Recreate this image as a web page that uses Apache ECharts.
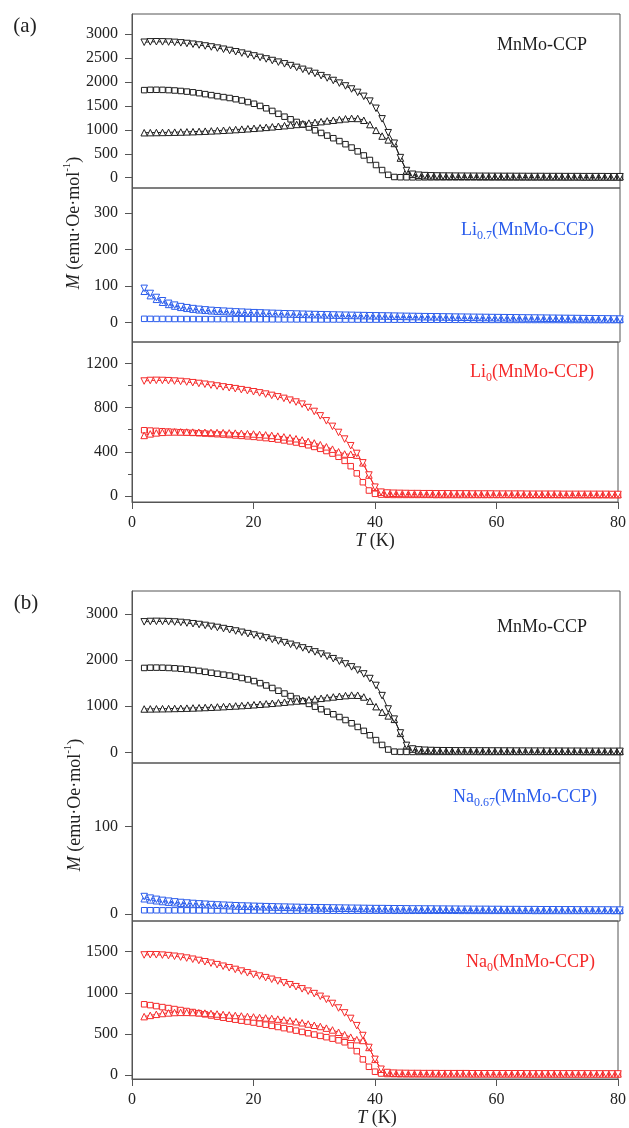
<!DOCTYPE html>
<html>
<head>
<meta charset="utf-8">
<script src="https://cdn.jsdelivr.net/npm/echarts@6/dist/echarts.min.js"></script>
<style>
html, body { margin: 0; padding: 0; background: #fff; }
#main { width: 629px; height: 1128px; }
</style>
</head>
<body>
<div id="main"></div>
<script>
// temperature grid (K)
var T = [2,3,4,5,6,7,8,9,10,11,12,13,14,15,16,17,18,19,20,21,22,23,24,25,26,27,28,29,30,31,
  32,33,34,35,36,37,38,39,40,41,42,43,44,45,46,47,48,49,50,51,52,53,54,55,56,57,58,59,60,61,
  62,63,64,65,66,67,68,69,70,71,72,73,74,75,76,77,78,79,80]

// MnMo-CCP (same sample in both panels)
var mnDown = [2830,2838,2840,2838,2834,2827,2817,2804,2789,2772,
  2752,2731,2708,2684,2658,2631,2603,2574,2544,2513,
  2481,2448,2414,2379,2342,2304,2264,2222,2178,2132,
  2083,2031,1976,1917,1853,1782,1700,1600,1450,1230,
  940,720,420,150,72,52,44,39,36,34,
  33,32,31,30,30,29,29,28,28,27,
  27,26,26,25,25,25,24,24,24,23,
  23,23,22,22,22,22,21,21,21]
var mnSquare = [1830,1836,1837,1835,1830,1822,1812,1799,1784,1766,
  1746,1725,1704,1684,1665,1640,1612,1580,1545,1500,
  1450,1395,1335,1275,1220,1165,1110,1050,990,935,
  880,825,765,700,630,550,465,370,265,160,
  60,15,10,9,8,8,8,8,8,8,
  8,8,8,8,8,7,7,7,7,7,
  7,7,7,7,7,7,7,7,7,7,
  7,7,6,6,6,6,6,6,6]
var mnUp = [940,942,944,946,948,951,954,958,962,967,
  972,978,984,991,998,1006,1014,1023,1032,1042,
  1052,1063,1075,1087,1100,1113,1127,1141,1156,1171,
  1186,1201,1216,1230,1240,1238,1200,1110,990,870,
  790,715,410,145,70,50,43,38,35,33,
  32,31,30,29,29,28,28,27,27,26,
  26,25,25,24,24,24,23,23,23,22,
  22,22,21,21,21,21,20,20,20]

// Li0.7(MnMo-CCP)
var li7Down = [94,80,69,60,53,48,44,41,38.5,36.5,
  35,33.5,32.5,31.5,30.5,29.5,28.8,28,27.3,26.7,
  26,25.5,25,24.4,24,23.5,23,22.6,22.2,21.8,
  21.4,21,20.6,20.3,20,19.6,19.3,19,18.7,18.4,
  18.1,17.8,17.5,17.2,17,16.7,16.4,16.2,16,15.7,
  15.5,15.2,15,14.8,14.6,14.4,14.2,14,13.8,13.6,
  13.4,13.2,13,12.8,12.6,12.4,12.2,12,11.8,11.6,
  11.4,11.2,11,10.8,10.6,10.4,10.2,10,9.8]
var li7Up = [86,74,64,56,50,45.5,42,39.3,37,35.2,
  33.8,32.5,31.5,30.6,29.7,28.9,28.2,27.5,26.8,26.2,
  25.6,25.1,24.6,24.1,23.6,23.2,22.8,22.4,22,21.6,
  21.2,20.8,20.5,20.1,19.8,19.5,19.2,18.9,18.6,18.3,
  18,17.7,17.4,17.1,16.9,16.6,16.3,16.1,15.9,15.6,
  15.4,15.1,14.9,14.7,14.5,14.3,14.1,13.9,13.7,13.5,
  13.3,13.1,12.9,12.7,12.5,12.3,12.1,11.9,11.7,11.5,
  11.3,11.1,10.9,10.7,10.5,10.3,10.1,9.9,9.7]
var li7Square = [10.5,10.4,10.3,10.2,10.1,10,10,9.9,9.9,9.8,
  9.8,9.7,9.7,9.6,9.6,9.5,9.5,9.4,9.4,9.3,
  9.3,9.2,9.2,9.1,9.1,9,9,8.9,8.9,8.8,
  8.8,8.7,8.7,8.6,8.6,8.5,8.5,8.4,8.4,8.3,
  8.3,8.2,8.2,8.1,8.1,8,8,8,7.9,7.9,
  7.9,7.8,7.8,7.8,7.7,7.7,7.7,7.6,7.6,7.6,
  7.5,7.5,7.5,7.4,7.4,7.4,7.3,7.3,7.3,7.2,
  7.2,7.2,7.1,7.1,7.1,7,7,7,7]

// Li0(MnMo-CCP)
var li0Down = [1040,1045,1046,1045,1043,1040,1036,1031,1025,1018,
  1011,1003,995,987,979,971,962,953,943,933,
  922,910,897,883,867,850,831,800,765,725,
  680,630,575,515,455,385,300,190,80,35,
  27,25,24,23,22,22,21,21,20,20,
  20,19,19,19,18,18,18,18,17,17,
  17,17,17,16,16,16,16,16,16,15,
  15,15,15,15,15,15,15,14,14]
var li0Square = [595,592,589,586,583,580,577,574,571,568,
  565,562,559,556,552,548,544,540,535,530,
  524,518,511,503,494,484,472,459,444,427,
  407,384,355,318,270,205,125,50,20,13,
  11,10,10,10,10,10,10,10,9,9,
  9,9,9,9,9,9,9,9,9,9,
  9,8,8,8,8,8,8,8,8,8,
  8,8,8,8,8,8,8,8,8]
var li0Up = [548,562,571,576,579,580,580,579,578,577,
  576,575,574,573,571,569,567,564,561,557,
  553,548,542,535,527,518,507,494,480,464,
  445,424,400,380,378,370,300,190,80,35,
  27,25,24,23,22,22,21,21,20,20,
  20,19,19,19,18,18,18,18,17,17,
  17,17,17,16,16,16,16,16,16,15,
  15,15,15,15,15,15,15,14,14]

// Na0.67(MnMo-CCP)
var na67Down = [20,18.2,16.8,15.6,14.7,13.9,13.2,12.6,12.1,11.6,
  11.2,10.8,10.4,10.1,9.8,9.5,9.2,9,8.8,8.6,
  8.4,8.2,8,7.9,7.7,7.6,7.4,7.3,7.2,7.1,
  7,6.9,6.8,6.7,6.6,6.5,6.4,6.3,6.2,6.2,
  6.1,6,6,5.9,5.8,5.8,5.7,5.7,5.6,5.6,
  5.5,5.5,5.4,5.4,5.3,5.3,5.3,5.2,5.2,5.1,
  5.1,5.1,5,5,5,4.9,4.9,4.9,4.8,4.8,
  4.8,4.7,4.7,4.7,4.6,4.6,4.6,4.5,4.5]
var na67Up = [17.5,16.2,15.2,14.3,13.6,13,12.4,11.9,11.5,11.1,
  10.8,10.4,10.1,9.8,9.5,9.2,9,8.8,8.6,8.4,
  8.2,8,7.9,7.7,7.6,7.5,7.3,7.2,7.1,7,
  6.9,6.8,6.7,6.6,6.5,6.4,6.3,6.2,6.1,6.1,
  6,5.9,5.9,5.8,5.7,5.7,5.6,5.6,5.5,5.5,
  5.4,5.4,5.3,5.3,5.2,5.2,5.2,5.1,5.1,5,
  5,5,4.9,4.9,4.9,4.8,4.8,4.8,4.7,4.7,
  4.7,4.6,4.6,4.6,4.5,4.5,4.5,4.4,4.4]
var na67Square = [4.3,4.3,4.3,4.2,4.2,4.2,4.2,4.2,4.1,4.1,
  4.1,4.1,4.1,4.1,4,4,4,4,4,4,
  4,4,3.9,3.9,3.9,3.9,3.9,3.9,3.9,3.9,
  3.8,3.8,3.8,3.8,3.8,3.8,3.8,3.8,3.8,3.8,
  3.8,3.7,3.7,3.7,3.7,3.7,3.7,3.7,3.7,3.7,
  3.7,3.7,3.6,3.6,3.6,3.6,3.6,3.6,3.6,3.6,
  3.6,3.6,3.6,3.6,3.5,3.5,3.5,3.5,3.5,3.5,
  3.5,3.5,3.5,3.5,3.5,3.5,3.5,3.4,3.4]

// Na0(MnMo-CCP)
var na0Down = [1460,1463,1462,1458,1452,1444,1434,1422,1408,1393,
  1377,1360,1342,1323,1304,1284,1264,1243,1222,1203,
  1184,1164,1143,1121,1098,1074,1048,1020,990,957,
  920,870,815,755,688,600,480,335,190,70,
  30,22,20,19,18,18,17,17,17,16,
  16,16,16,16,15,15,15,15,15,15,
  15,15,15,14,14,14,14,14,14,14,
  14,14,14,14,13,13,13,13,13]
var na0Square = [860,850,838,826,814,802,790,778,766,752,
  738,724,710,697,685,673,661,650,638,625,
  612,598,584,570,556,540,524,508,492,476,
  460,442,422,398,360,290,190,100,40,18,
  12,11,10,10,10,10,10,10,10,10,
  10,10,10,10,10,10,10,10,9,9,
  9,9,9,9,9,9,9,9,9,9,
  9,9,9,9,9,9,9,9,9]
var na0Up = [710,725,738,748,755,760,762,762,760,757,
  753,748,742,736,730,724,718,712,706,700,
  694,687,680,670,660,648,635,620,605,590,
  570,548,520,490,460,430,420,335,190,70,
  30,22,20,19,18,18,17,17,17,16,
  16,16,16,16,15,15,15,15,15,15,
  15,15,15,14,14,14,14,14,14,14,
  14,14,14,14,13,13,13,13,13]

// tick labels of each y axis
var yTicks = [
  [0,500,1000,1500,2000,2500,3000],
  [0,100,200,300],
  [0,400,800,1200],
  [0,1000,2000,3000],
  [0,100],
  [0,500,1000,1500]
]
var xTicks = [0,20,40,60,80]

var BLACK = '#1e1e1e'
var BLUE = '#2a5cec'
var RED = '#f52a2a'
var FONT = '"Liberation Serif", "Times New Roman", serif'

var myChart = echarts.init(document.getElementById('main'))

// plot areas, top / height in px
var boxes = [
  [14, 174], [188, 154], [342, 160],
  [591, 172], [763, 158], [921, 158]
]
var ranges = [
  [-215, 3420], [-53, 369], [-54, 1393],
  [-232, 3499], [-8, 173], [-48.7, 1873]
]

var plain = function(v) { return String(v) }

var grid = boxes.map(function(b) {
  return {
    left: 132, right: 9, top: b[0], height: b[1],
    show: true, borderColor: '#555', borderWidth: 1
  }
})

var xAxis = boxes.map(function(b, i) {
  var bottom = i === 2 || i === 5
  return {
    type: 'value', gridIndex: i, min: 0, max: 80, interval: 20,
    splitLine: { show: false },
    axisLine: { show: bottom, onZero: false, lineStyle: { color: '#555' } },
    axisTick: { show: bottom, length: 7, customValues: xTicks, lineStyle: { color: '#555' } },
    axisLabel: { show: bottom, customValues: xTicks, formatter: plain, margin: 13, color: '#222', fontSize: 16, fontFamily: FONT }
  }
})

var yAxis = ranges.map(function(r, i) {
  return {
    type: 'value', gridIndex: i, min: r[0], max: r[1], position: 'left',
    splitLine: { show: false },
    axisLine: { show: true, onZero: false, lineStyle: { color: '#555' } },
    axisTick: { show: true, length: 7, customValues: yTicks[i], lineStyle: { color: '#555' } },
    axisLabel: { show: true, customValues: yTicks[i], formatter: plain, margin: 14, color: '#222', fontSize: 16, fontFamily: FONT }
  }
})
// short minor ticks of the Li0 plot
yAxis.push({
  type: 'value', gridIndex: 2, min: ranges[2][0], max: ranges[2][1], position: 'left',
  splitLine: { show: false },
  axisLine: { show: false, onZero: false },
  axisTick: { show: true, length: 4, customValues: [200, 600, 1000], lineStyle: { color: '#555' } },
  axisLabel: { show: false }
})

function curve(ys, idx, color, shape) {
  return {
    type: 'line',
    xAxisIndex: idx,
    yAxisIndex: idx,
    data: T.map(function(t, i) { return [t, ys[i]] }),
    symbol: shape === 'down' ? 'triangle' : shape,
    symbolRotate: shape === 'down' ? 180 : 0,
    symbolSize: shape === 'rect' ? 5.5 : 6.5,
    showAllSymbol: true,
    lineStyle: { color: color, width: 1 },
    itemStyle: { color: '#fff', borderColor: color, borderWidth: 1 },
    silent: true
  }
}

var series = [
  curve(mnSquare, 0, BLACK, 'rect'),
  curve(mnUp, 0, BLACK, 'triangle'),
  curve(mnDown, 0, BLACK, 'down'),
  curve(li7Square, 1, BLUE, 'rect'),
  curve(li7Up, 1, BLUE, 'triangle'),
  curve(li7Down, 1, BLUE, 'down'),
  curve(li0Square, 2, RED, 'rect'),
  curve(li0Up, 2, RED, 'triangle'),
  curve(li0Down, 2, RED, 'down'),
  curve(mnSquare, 3, BLACK, 'rect'),
  curve(mnUp, 3, BLACK, 'triangle'),
  curve(mnDown, 3, BLACK, 'down'),
  curve(na67Square, 4, BLUE, 'rect'),
  curve(na67Up, 4, BLUE, 'triangle'),
  curve(na67Down, 4, BLUE, 'down'),
  curve(na0Square, 5, RED, 'rect'),
  curve(na0Up, 5, RED, 'triangle'),
  curve(na0Down, 5, RED, 'down')
]

// sample name with a subscript, right aligned at x
function sample(x, y, head, sub, color) {
  var base = { fontSize: 18, lineHeight: 24, fontFamily: FONT, fill: color, color: color }
  var small = { fontSize: 12, lineHeight: 12, verticalAlign: 'bottom', fontFamily: FONT, fill: color, color: color }
  var text = sub ? '{b|' + head + '}{s|' + sub + '}{b|(MnMo-CCP)}' : '{b|' + head + '}'
  return {
    type: 'text', x: x, y: y, silent: true,
    style: { text: text, rich: { b: base, s: small }, align: 'right', verticalAlign: 'middle' }
  }
}

function yTitle(x, y) {
  var base = { fontSize: 18, lineHeight: 24, fontFamily: FONT, fill: '#222', color: '#222' }
  return {
    type: 'text', x: x, y: y, rotation: Math.PI / 2, silent: true,
    style: {
      text: '{i|M}{b| (emu·Oe·mol}{p|-1}{b|)}',
      rich: {
        b: base,
        i: Object.assign({}, base, { fontStyle: 'italic' }),
        p: { fontSize: 11, lineHeight: 11, verticalAlign: 'top', fontFamily: FONT, fill: '#222', color: '#222' }
      },
      align: 'center', verticalAlign: 'middle'
    }
  }
}

function xTitle(x, y) {
  var base = { fontSize: 18, lineHeight: 22, fontFamily: FONT, fill: '#222', color: '#222' }
  return {
    type: 'text', x: x, y: y, silent: true,
    style: {
      text: '{i|T}{b| (K)}',
      rich: { b: base, i: Object.assign({}, base, { fontStyle: 'italic' }) },
      align: 'center', verticalAlign: 'middle'
    }
  }
}

function panelTag(x, y, s) {
  return {
    type: 'text', x: x, y: y, silent: true,
    style: { text: s, fontSize: 21, fontFamily: FONT, fill: '#222', align: 'center', verticalAlign: 'middle' }
  }
}

var graphic = [
  panelTag(25, 26, '(a)'),
  panelTag(26, 603, '(b)'),
  sample(587, 45, 'MnMo-CCP', null, BLACK),
  sample(594, 230, 'Li', '0.7', BLUE),
  sample(594, 372, 'Li', '0', RED),
  sample(587, 627, 'MnMo-CCP', null, BLACK),
  sample(597, 797, 'Na', '0.67', BLUE),
  sample(595, 962, 'Na', '0', RED),
  yTitle(74, 223),
  yTitle(75, 805),
  xTitle(375, 541),
  xTitle(377, 1118)
]

myChart.setOption({
  animation: false,
  backgroundColor: '#fff',
  grid: grid,
  xAxis: xAxis,
  yAxis: yAxis,
  series: series,
  graphic: graphic
})
</script>
</body>
</html>
